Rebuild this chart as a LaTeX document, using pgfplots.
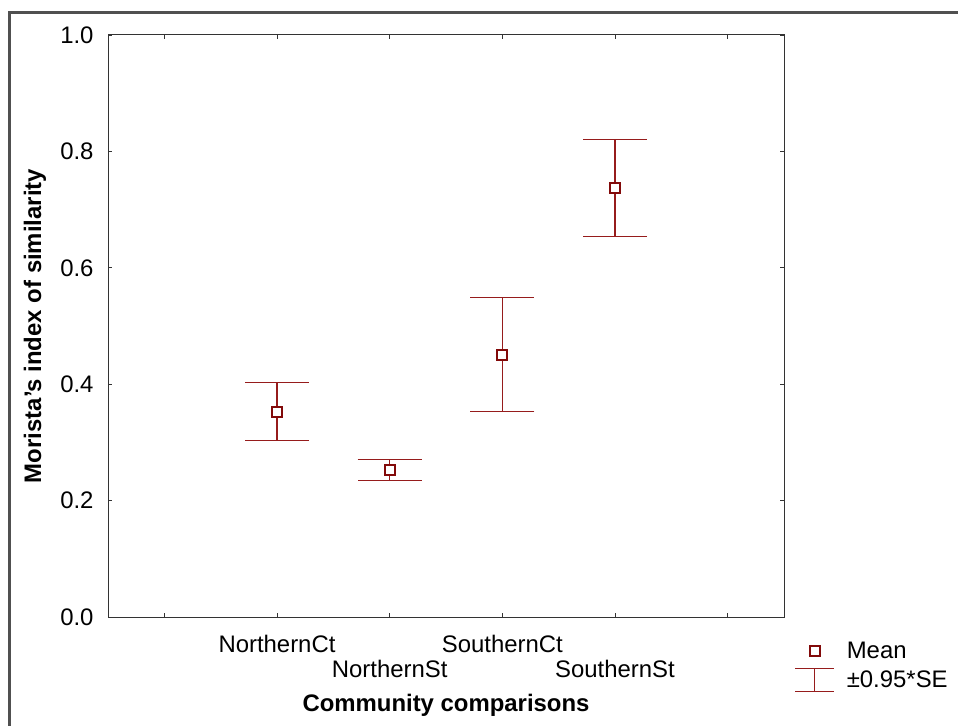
\documentclass[border=0pt]{standalone}
\usepackage{pgfplots}
\pgfplotsset{compat=1.18}
\usepackage{pgfplotstable}
\usepackage{fontspec}
\setmainfont{Liberation Sans}
\definecolor{barred}{RGB}{150,28,28}
\definecolor{markred}{RGB}{130,10,10}
\definecolor{framegray}{RGB}{80,80,80}
\pgfplotstableread{
x y e
2 0.353 0.050
3 0.253 0.018
4 0.451 0.098
5 0.737 0.083
}\meandata
\begin{document}
\begin{tikzpicture}
\useasboundingbox (0,0) rectangle (958bp,726bp);
\draw[line width=3bp, framegray] (9.5bp,-3bp) |- (961bp,713bp);
\begin{axis}[
  at={(108bp,109bp)}, anchor=south west,
  scale only axis, width=676bp, height=582bp,
  xmin=0.5, xmax=6.5, ymin=0, ymax=1,
  xtick={1,2,3,4,5,6},
  xticklabels={,\strut NorthernCt,{\strut\\\strut NorthernSt},\strut SouthernCt,{\strut\\\strut SouthernSt},},
  ytick={0,0.2,0.4,0.6,0.8,1.0},
  yticklabel style={/pgf/number format/fixed, /pgf/number format/fixed zerofill, /pgf/number format/precision=1},
  /pgf/number format/assume math mode=true,
  tick align=inside, major tick length=4bp,
  axis line style={draw=black!80, line width=1bp},
  every axis/.append style={draw=black!80, line width=1bp},
  tick style={draw=black!80, line width=0.8bp},
  ticklabel style={font=\fontsize{24}{26}\selectfont},
  xticklabel style={align=center, inner sep=0pt, yshift=-16.4bp},
  yticklabel style={inner sep=0pt, xshift=-14bp},
  xlabel={Community comparisons},
  ylabel={Morista's index of similarity},
  label style={font=\fontsize{24}{28}\selectfont\bfseries},
  xlabel style={at={(axis description cs:0.5,-0.1512)}, anchor=center},
  ylabel style={at={(axis description cs:-0.108,0.5)}, anchor=center},
  legend style={draw=none, fill=none, at={(axis description cs:1,0)}, anchor=north west,
    xshift=10bp, yshift=-18.5bp, inner sep=0pt, column sep=12bp, row sep=0pt,
    font=\fontsize{24}{26}\selectfont, nodes={inner sep=0pt}},
  legend cell align=left,
]
\addplot[forget plot, only marks, mark=square*, mark size=5bp,
  mark options={draw=markred, fill=white, line width=2bp},
  error bars/.cd, y dir=both, y explicit,
  error bar style={barred, line width=1.3bp},
  error mark options={barred, line width=1.3bp, mark size=32bp, rotate=90}]
  table[x=x, y=y, y error=e] {\meandata};
\addlegendimage{legend image code/.code={
  \path[draw=none, fill=none] (0bp,-14.75bp) rectangle (39bp,14.75bp);
  \draw[markred, line width=2bp, fill=white] (14.5bp,-5bp) rectangle (24.5bp,5bp);}}
\addlegendentry{Mean}
\addlegendimage{legend image code/.code={
  \path[draw=none, fill=none] (0bp,-14.75bp) rectangle (39bp,14.75bp);
  \draw[barred, line width=1.3bp] (0bp,-11.5bp) -- (39bp,-11.5bp) (19.5bp,-11.5bp) -- (19.5bp,11.5bp) (0bp,11.5bp) -- (39bp,11.5bp);}}
\addlegendentry{±0.95*SE}
\end{axis}
\end{tikzpicture}
\end{document}
